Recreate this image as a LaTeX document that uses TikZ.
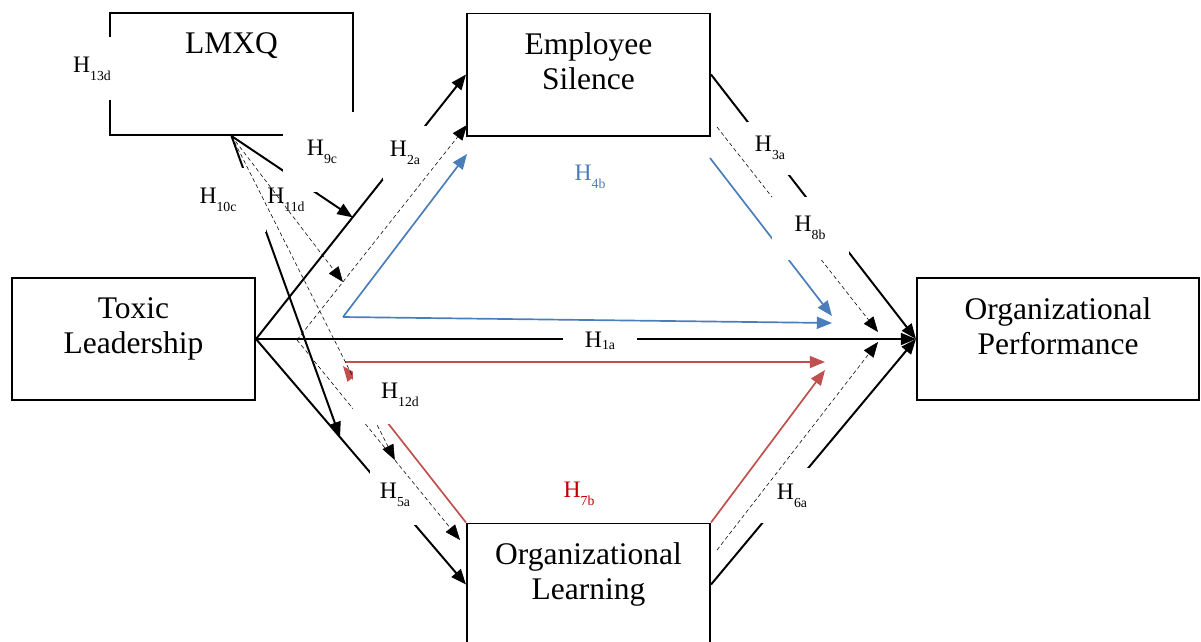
\documentclass[tikz,border=0pt]{standalone}
\usepackage{fontspec}
\setmainfont{Liberation Serif}
\definecolor{pathBlue}{HTML}{4A7EBB}
\definecolor{pathRed}{HTML}{C0504D}
\definecolor{labelRed}{HTML}{C00000}
\usetikzlibrary{arrows.meta, positioning, calc}
\newcommand{\hyp}[2][-5.5pt]{H\raisebox{#1}{\fontsize{9.8}{10}\selectfont #2}}

\begin{document}
\begin{tikzpicture}[x=0.025cm, y=-0.025cm,
  varbox/.style={draw, line width=1.4pt, minimum width=6.075cm, minimum height=3.05cm, inner sep=0pt},
  vartext/.style={inner sep=0pt, align=center, font=\fontsize{22.4}{25}\selectfont},
  hlabel/.style={fill=white, inner sep=0pt, font=\fontsize{16.8}{18}\selectfont},
  arr/.style={-{Triangle[length=0.38cm, width=0.3cm]}, line width=1.4pt},
  dasharr/.style={-{Triangle[length=0.38cm, width=0.3cm]}, line width=0.4pt, dash pattern=on 2.8pt off 2pt},
  bluearr/.style={arr, pathBlue, line width=1.2pt},
  redarr/.style={arr, pathRed, line width=1.2pt}]

  \useasboundingbox (0,0) rectangle (1201,641);

  % Variables
  \node[varbox] (lmxq) at (231.5,74) {};
  \node[varbox] (es) at (588.5,74.5) {};
  \node[varbox] (toxic) at (133.5,339) {};
  \node[varbox, minimum width=7.05cm] (op) at (1058,339) {};
  \node[varbox] (ol) at (588.5,584.5) {};

  \node[vartext, below=0.5cm of lmxq.north] (lmxqtxt) {LMXQ};
  \node[vartext, below=0.5cm of es.north] (estxt) {Employee\\Silence};
  \node[vartext, below=0.5cm of toxic.north] (toxictxt) {Toxic\\Leadership};
  \node[vartext, below=0.5cm of op.north] (optxt) {Organizational\\Performance};
  \node[vartext, below=0.5cm of ol.north] (oltxt) {Organizational\\Learning};

  \coordinate (tlapex) at (297,340);
  \coordinate (blcorner) at (343,317);
  \coordinate (rdcorner) at (345,362);
  \coordinate (rdtip) at (343,366);
  \coordinate (esblue) at (467,154);
  \coordinate (esblueout) at (710,158);
  \coordinate (opblue) at (832,323);
  \coordinate (opbluetop) at (832,316);
  \coordinate (opred) at (825,362);
  \coordinate (opredlow) at (825,370);
  \coordinate (esdash) at (467,125);
  \coordinate (oldash) at (460,540);
  \coordinate (esdashout) at (717,127);
  \coordinate (oldashout) at (717,550);
  \coordinate (opdash) at (878,332);
  \coordinate (opdashlow) at (878,342);

  % Direct paths
  \draw[arr] (toxic.east) -- (op.west);
  \draw[arr] (toxic.east) -- (es.west);
  \draw[arr] (toxic.east) -- (ol.west);
  \draw[arr] (es.east) -- (op.west);
  \draw[arr] (ol.east) -- (op.west);
  \draw[arr] (lmxq.south) -- ($(toxic.east)!0.46!(es.west)$);
  \draw[arr] (lmxq.south) -- ($(toxic.east)!0.40!(ol.west)$);

  % Mediation via silence
  \draw[bluearr] (blcorner) -- (esblue);
  \draw[bluearr] (blcorner) -- (opblue);
  \draw[bluearr] (esblueout) -- (opbluetop);

  % Mediation via learning
  \draw[redarr] (rdcorner) -- (opred);
  \draw[redarr] (ol.north east) -- (opredlow);
  \draw[redarr] (ol.north west) -- (rdtip);

  \node[hlabel, minimum width=1.55cm, minimum height=1.575cm] (h13d) at (92,68.5) {\hyp{13d}};
  \node[hlabel, minimum width=1.925cm, minimum height=2cm] (h9c) at (322,152) {\hyp{9c}};
  \node[hlabel, minimum width=1.1cm, minimum height=1.35cm] (h2a) at (405,153) {\hyp{2a}};
  \node[hlabel, minimum width=2.4cm, minimum height=1.6cm] (h10c) at (218,200) {\hyp{10c}};
  \node[hlabel, minimum width=1cm, minimum height=1cm] (h11d) at (286,200) {\hyp{11d}};
  \node[hlabel, minimum width=1.15cm, minimum height=1.325cm] (h3a) at (770,148) {\hyp{3a}};
  \node[hlabel, minimum width=1.25cm, minimum height=1.5cm] (h5a) at (395,495) {\hyp{5a}};
  \node[hlabel, minimum width=1.6cm, minimum height=1.375cm] (h6a) at (792,495.5) {\hyp{6a}};
  \node[hlabel, minimum width=1.85cm, minimum height=0.9cm] (h1a) at (600,341) {\hyp[-1.5pt]{1a}};
  \node[hlabel, text=pathBlue] (h4b) at (590,177) {\hyp{4b}};
  \node[hlabel, text=labelRed, minimum width=1.95cm, minimum height=1.425cm] (h7b) at (579,494) {\hyp{7b}};

  % Dashed indirect and moderated paths
  \draw[dasharr] (tlapex) -- (esdash);
  \draw[dasharr] (tlapex) -- (oldash);
  \draw[dasharr] (esdashout) -- (opdash);
  \draw[dasharr] (oldashout) -- (opdashlow);
  \draw[dasharr] (lmxq.south) -- ($(tlapex)!0.27!(esdash)$);
  \draw[dasharr] (lmxq.south) -- ($(tlapex)!0.6!(oldash)$);

  \node[hlabel, minimum width=1.925cm, minimum height=1.575cm] (h8b) at (810,228) {\hyp{8b}};
  \node[hlabel, minimum width=2.35cm, minimum height=1.475cm] (h12d) at (400,394.5) {\hyp{12d}};
\end{tikzpicture}
\end{document}
